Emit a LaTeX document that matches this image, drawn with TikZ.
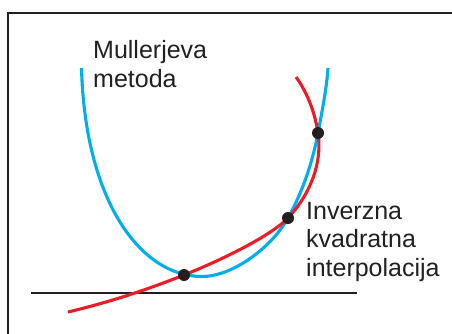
\documentclass[tikz,border=0pt]{standalone}
\usepackage{fontspec}
\setmainfont{Liberation Sans}
\definecolor{mcyan}{RGB}{0,174,239}
\definecolor{mred}{RGB}{237,28,36}
\definecolor{mblack}{RGB}{35,31,32}
\begin{document}
\begin{tikzpicture}[x=1pt,y=-1pt,
  frameline/.style={draw=mblack,line width=2.8pt},
  axisline/.style={draw=mblack,line width=2.8pt},
  muller/.style={draw=mcyan,line width=3.1pt},
  inverse/.style={draw=mred,line width=3.1pt},
  dotnode/.style={circle,fill=mblack,inner sep=0pt,minimum size=12pt},
  lbl/.style={align=left,anchor=north west,inner sep=0pt,text=mblack,font=\fontsize{25}{29}\selectfont}]
\useasboundingbox (0,0) rectangle (452,333);
% frame
\coordinate (fl) at (8,340);
\coordinate (ftl) at (8,13);
\coordinate (ftr) at (460,13);
\draw[frameline] (fl) -- (ftl) -- (ftr);
% axis
\coordinate (a1) at (31,293);
\coordinate (a2) at (357,293);
\draw[axisline] (a1) -- (a2);
% points
\coordinate (p1) at (184,275);
\coordinate (p2) at (288,218);
\coordinate (p3) at (318,133);
\coordinate (bt) at (81.5,68);
\coordinate (bm) at (202,276.5);
\coordinate (be) at (328,68);
\coordinate (rs) at (68,312);
\coordinate (re) at (296,77);
% Muller parabola (blue)
\draw[muller] (bt) .. controls (85,200) and (140,276.5) .. (bm)
  .. controls (232,276.5) and (270.8,248.5) .. (p2)
  .. controls (302.7,191.9) and (313,160.4) .. (p3)
  .. controls (321.6,113.4) and (326.5,90) .. (be);
% Inverse quadratic (red)
\draw[inverse] (rs) .. controls (110,302) and (146.8,289.8) .. (p1)
  .. controls (221.2,260.2) and (270.75,236) .. (p2)
  .. controls (310.5,194) and (322.5,162.7) .. (p3)
  .. controls (314.3,108.3) and (304.9,89.2) .. (re);
% dots
\node[dotnode] (d1) at (p1) {};
\node[dotnode] (d2) at (p2) {};
\node[dotnode] (d3) at (p3) {};
% labels
\node[lbl] (mlab) at (93,40) {Mullerjeva\\metoda};
\node[lbl,font=\fontsize{25}{28.5}\selectfont] (ilab) at (306,202) {Inverzna\\kvadratna\\interpolacija};
\end{tikzpicture}
\end{document}
